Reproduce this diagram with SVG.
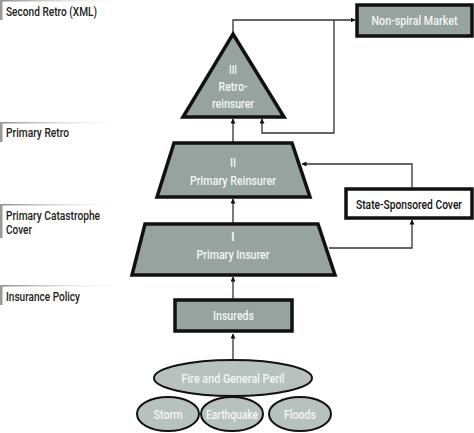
<svg xmlns="http://www.w3.org/2000/svg" width="474" height="433" viewBox="0 0 474 433">
<defs>
<linearGradient id="fade" x1="0" y1="0" x2="1" y2="0">
<stop offset="0" stop-color="#8a8a8a"/>
<stop offset="1" stop-color="#ffffff" stop-opacity="0"/>
</linearGradient>
<marker id="arr" viewBox="0 0 10 10" refX="9" refY="5" markerWidth="5" markerHeight="5" orient="auto" markerUnits="userSpaceOnUse">
<path d="M0,0 L10,5 L0,10 z" fill="#111"/>
</marker>
<style>
.lab{font-family:Roboto,"Liberation Sans",Arial,sans-serif;font-size:13.5px;font-weight:500;fill:#222}
.wt{font-family:Roboto,"Liberation Sans",Arial,sans-serif;font-size:13.5px;font-weight:500;fill:#f4f6f5;text-anchor:middle}
.bt{font-family:Roboto,"Liberation Sans",Arial,sans-serif;font-size:13.5px;font-weight:500;fill:#111;text-anchor:middle}
.shape{fill:#97a39f;stroke:#111;stroke-width:3.5;stroke-linejoin:miter}
.ell{fill:#b7c1be;stroke:#111;stroke-width:2}
.conn{fill:none;stroke:#333;stroke-width:1.3}
.bar{fill:#9a9a9a}
</style>
</defs>
<rect width="474" height="433" fill="#fff"/>
<g id="labels">
<rect x="0" y="0" width="130" height="1.5" fill="url(#fade)"/>
<rect class="bar" x="0" y="0" width="2.5" height="20"/>
<text class="lab" x="6" y="16" textLength="91" lengthAdjust="spacingAndGlyphs">Second Retro (XML)</text>
<rect x="0" y="122" width="130" height="1.5" fill="url(#fade)"/>
<rect class="bar" x="0" y="122" width="2.5" height="20"/>
<text class="lab" x="6" y="137" textLength="63" lengthAdjust="spacingAndGlyphs">Primary Retro</text>
<rect x="0" y="204" width="130" height="1.5" fill="url(#fade)"/>
<rect class="bar" x="0" y="204" width="2.5" height="34"/>
<text class="lab" x="6" y="219.5" textLength="94" lengthAdjust="spacingAndGlyphs">Primary Catastrophe</text>
<text class="lab" x="6" y="233.5" textLength="26" lengthAdjust="spacingAndGlyphs">Cover</text>
<rect x="0" y="285" width="130" height="1.5" fill="url(#fade)"/>
<rect class="bar" x="0" y="285" width="2.5" height="20"/>
<text class="lab" x="6" y="301" textLength="74" lengthAdjust="spacingAndGlyphs">Insurance Policy</text>
</g>
<g id="connectors">
<polyline class="conn" points="233,33 233,20 355,20" marker-end="url(#arr)"/>
<polyline class="conn" points="334,20 334,133 262,133 262,119" marker-end="url(#arr)"/>
<line class="conn" x1="233" y1="142" x2="233" y2="119" marker-end="url(#arr)"/>
<line class="conn" x1="233" y1="223" x2="233" y2="199" marker-end="url(#arr)"/>
<line class="conn" x1="233" y1="299" x2="233" y2="277" marker-end="url(#arr)"/>
<line class="conn" x1="233" y1="360" x2="233" y2="334" marker-end="url(#arr)"/>
<polyline class="conn" points="412,188 412,164 302,164" marker-end="url(#arr)"/>
<polyline class="conn" points="329,248 412,248 412,220" marker-end="url(#arr)"/>
</g>
<g id="nonspiral">
<rect class="shape" x="357" y="5" width="115" height="31"/>
<text class="wt" x="414.5" y="25" textLength="86" lengthAdjust="spacingAndGlyphs">Non-spiral Market</text>
</g>
<g id="retro">
<polygon class="shape" points="233,34 284,117 183,117"/>
<text class="wt" x="233" y="74" textLength="8" lengthAdjust="spacingAndGlyphs">III</text>
<text class="wt" x="233" y="91" textLength="29" lengthAdjust="spacingAndGlyphs">Retro-</text>
<text class="wt" x="233" y="108" textLength="42" lengthAdjust="spacingAndGlyphs">reinsurer</text>
</g>
<g id="reinsurer">
<polygon class="shape" points="174,143 292,143 310,197 157,197"/>
<text class="wt" x="233" y="167" textLength="6" lengthAdjust="spacingAndGlyphs">II</text>
<text class="wt" x="233" y="185" textLength="86" lengthAdjust="spacingAndGlyphs">Primary Reinsurer</text>
</g>
<g id="state">
<rect class="shape" x="346" y="189" width="126" height="29" style="fill:#fff"/>
<text class="bt" x="409" y="209" textLength="106" lengthAdjust="spacingAndGlyphs">State-Sponsored Cover</text>
</g>
<g id="insurer">
<polygon class="shape" points="145,224 318,224 335,275 132,275"/>
<text class="wt" x="233" y="241">I</text>
<text class="wt" x="233" y="259" textLength="73" lengthAdjust="spacingAndGlyphs">Primary Insurer</text>
</g>
<g id="insureds">
<rect class="shape" x="175" y="300" width="117" height="31"/>
<text class="wt" x="233.5" y="320" textLength="41" lengthAdjust="spacingAndGlyphs">Insureds</text>
</g>
<g id="fire">
<ellipse class="ell" cx="233" cy="378" rx="79" ry="18"/>
<text class="wt" x="233" y="383" textLength="103" lengthAdjust="spacingAndGlyphs">Fire and General Peril</text>
</g>
<g id="storm">
<ellipse class="ell" cx="168" cy="414" rx="31" ry="17"/>
<text class="wt" x="168" y="419" textLength="29" lengthAdjust="spacingAndGlyphs">Storm</text>
</g>
<g id="earthquake">
<ellipse class="ell" cx="232" cy="414" rx="31" ry="17"/>
<text class="wt" x="232" y="419" textLength="52" lengthAdjust="spacingAndGlyphs">Earthquake</text>
</g>
<g id="floods">
<ellipse class="ell" cx="300" cy="414" rx="31" ry="17"/>
<text class="wt" x="300" y="419" textLength="32" lengthAdjust="spacingAndGlyphs">Floods</text>
</g>
</svg>
